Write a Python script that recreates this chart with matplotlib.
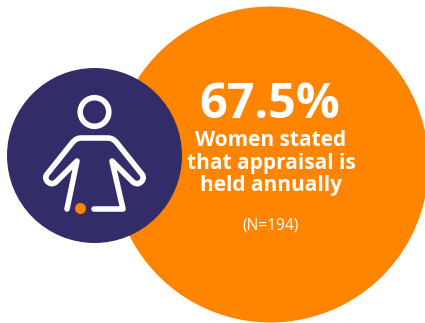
import matplotlib
matplotlib.use("Agg")
import matplotlib.pyplot as plt
from matplotlib.patches import Circle, PathPatch
from matplotlib.path import Path

ORANGE = "#ff8400"
NAVY = "#322d69"
WHITE = "#ffffff"

headline = "67.5%"
caption_lines = ["Women stated", "that appraisal is", "held annually"]
sample_note = "(N=194)"

fig = plt.figure(figsize=(4.25, 3.23), dpi=100)
ax = fig.add_axes([0, 0, 1, 1])
ax.set_xlim(0, 425)
ax.set_ylim(323, 0)
ax.axis("off")

ax.add_patch(Circle((270.5, 164.5), 158, fc=ORANGE, ec="none"))
ax.add_patch(Circle((94.5, 155.5), 87.5, fc=NAVY, ec="none"))

# person icon: head, then one stroke for arms and shoulders, then the legs
lw = 4.0
ax.add_patch(Circle((94.5, 112), 14.3, fc="none", ec=WHITE, lw=lw))

M, L, C = Path.MOVETO, Path.LINETO, Path.CURVE3
body = [
    (M, (67, 209)), (L, (77, 161)), (L, (56, 182)),
    (C, (51, 186)), (C, (47, 181)), (C, (44, 177)), (C, (48, 173)),
    (L, (72, 143)), (C, (76, 138)), (C, (81, 138)),
    (L, (108, 138)), (C, (113, 138)), (C, (117, 143)),
    (L, (141, 173)), (C, (145, 177)), (C, (142, 181)), (C, (138, 186)), (C, (133, 182)),
    (L, (112, 161)), (L, (123, 209)), (L, (94, 209)),
]
codes = [c for c, _ in body]
verts = [v for _, v in body]
ax.add_patch(PathPatch(Path(verts, codes), fc="none", ec=WHITE, lw=lw,
                       capstyle="round", joinstyle="round"))

ax.add_patch(Circle((80.5, 208.5), 5.5, fc=ORANGE, ec="none"))

ax.text(270, 105, headline, color=WHITE, fontsize=35, fontweight="bold",
        family="Open Sans", ha="center", va="center")
for line, y in zip(caption_lines, [140, 163, 186]):
    ax.text(271, y, line, color=WHITE, fontsize=15, fontweight="bold",
            family="Open Sans", ha="center", va="center")
ax.text(271, 225, sample_note, color=WHITE, fontsize=11.2,
        family="Open Sans", ha="center", va="center")

fig.savefig("out.png", dpi=100)
